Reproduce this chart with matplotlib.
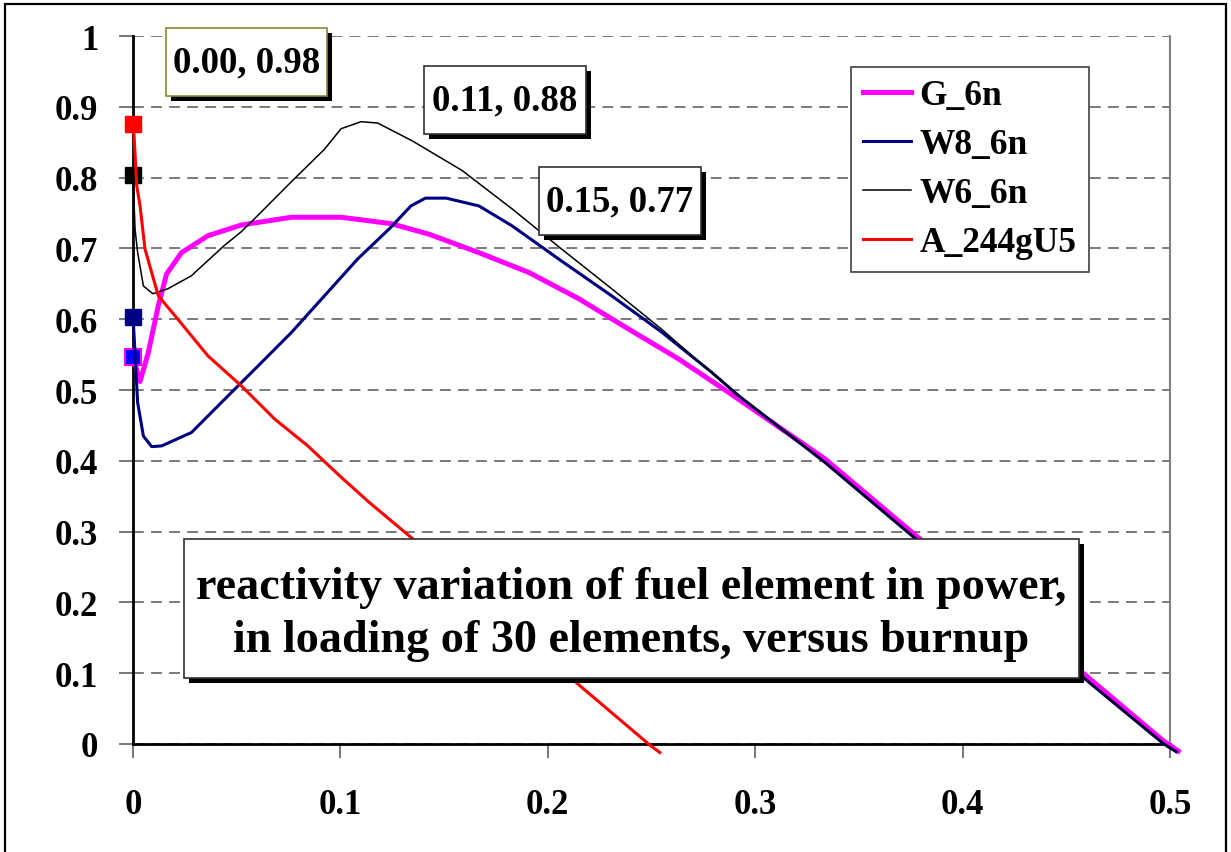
import numpy as np
import matplotlib
matplotlib.use('Agg')
import matplotlib.pyplot as plt
import matplotlib.patheffects as pe
from matplotlib.patches import Rectangle

plt.rcParams['font.family'] = ['Liberation Serif', 'DejaVu Serif']
plt.rcParams['font.weight'] = 'bold'

# burnup (x) vs reactivity (y)
g6n_x = [0, 0.0034, 0.0074, 0.0122, 0.0162, 0.0234, 0.0362, 0.0522, 0.0763, 0.1003,
         0.1244, 0.1428, 0.1668, 0.1909, 0.2149, 0.239, 0.263, 0.287, 0.3335, 0.3768,
         0.4585, 0.497, 0.504]
g6n_y = [0.547, 0.512, 0.553, 0.619, 0.664, 0.694, 0.718, 0.733, 0.744, 0.744,
         0.735, 0.720, 0.694, 0.666, 0.629, 0.586, 0.544, 0.497, 0.403, 0.296,
         0.099, 0.004, -0.010]

w8_x = [0, 0.001, 0.0022, 0.005, 0.009, 0.0138, 0.0282, 0.0442, 0.0603, 0.0763,
        0.0923, 0.1083, 0.1244, 0.134, 0.141, 0.151, 0.1668, 0.1827, 0.2067, 0.2308,
        0.2548, 0.279, 0.292, 0.3335, 0.3736, 0.4585, 0.497, 0.503]
w8_y = [0.603, 0.553, 0.483, 0.435, 0.420, 0.421, 0.440, 0.487, 0.534, 0.581,
        0.633, 0.685, 0.730, 0.760, 0.771, 0.771, 0.760, 0.732, 0.682, 0.633,
        0.582, 0.525, 0.492, 0.398, 0.299, 0.093, 0.000, -0.011]

w6_x = [0, 0.001, 0.0022, 0.005, 0.0096, 0.0168, 0.028, 0.044, 0.052, 0.060,
        0.0763, 0.0923, 0.1003, 0.110, 0.118, 0.1346, 0.1587, 0.1827, 0.2067, 0.2308,
        0.2548, 0.2788, 0.292, 0.3335, 0.3736, 0.4585, 0.497, 0.503]
w6_y = [0.804, 0.727, 0.695, 0.647, 0.636, 0.643, 0.661, 0.704, 0.723, 0.746,
        0.794, 0.840, 0.869, 0.879, 0.877, 0.852, 0.810, 0.756, 0.699, 0.643,
        0.586, 0.525, 0.492, 0.398, 0.299, 0.093, 0.000, -0.011]

a244_x = [0, 0.0006, 0.0018, 0.0034, 0.0058, 0.009, 0.0122, 0.0202, 0.0362, 0.0522,
          0.0683, 0.0843, 0.1003, 0.114, 0.1348, 0.17, 0.2144, 0.2486, 0.254]
a244_y = [0.876, 0.855, 0.789, 0.760, 0.699, 0.666, 0.633, 0.605, 0.548, 0.506,
          0.459, 0.421, 0.377, 0.341, 0.290, 0.200, 0.085, 0.0, -0.012]

labels = ['G_6n', 'W8_6n', 'W6_6n', 'A_244gU5']
peaks = ['0.00, 0.98', '0.11, 0.88', '0.15, 0.77']
title_txt = 'reactivity variation of fuel element in power,\nin loading of 30 elements, versus burnup'

W, H = 1231, 853
fig = plt.figure(figsize=(W / 100, H / 100), dpi=100)
ax = fig.add_axes([133/W, 108/H, 1037/W, 708/H])

# outer chart border
fig.patches.append(Rectangle((5/W, -0.01), 1221/W, 1.0 - 5/H + 0.01,
                             transform=fig.transFigure, fill=False, ec='black', lw=1.6))

ax.plot(g6n_x, g6n_y, color='#ff00ff', lw=3.6, clip_on=False, zorder=4, label=labels[0],
        marker='s', markevery=[0], ms=11, mfc='#0000ff', mec='#ff00ff', mew=1.5)
ax.plot(w8_x, w8_y, color='#000080', lw=2.2, clip_on=False, zorder=4, label=labels[1],
        marker='s', markevery=[0], ms=11, mfc='#000080', mec='#000080')
ax.plot(w6_x, w6_y, color='black', lw=1.1, clip_on=False, zorder=4, label=labels[2],
        marker='s', markevery=[0], ms=11, mfc='black', mec='black')
ax.plot(a244_x, a244_y, color='#ff0000', lw=2.2, clip_on=False, zorder=4, label=labels[3],
        marker='s', markevery=[0], ms=11, mfc='#ff0000', mec='#ff0000')

ax.set_xlim(0, 0.5)
ax.set_ylim(0, 1)
ax.set_xticks(np.arange(0, 0.51, 0.1))
ax.set_yticks(np.arange(0, 1.01, 0.1))
ax.set_xticklabels(['0', '0.1', '0.2', '0.3', '0.4', '0.5'])
ax.set_yticklabels(['0', '0.1', '0.2', '0.3', '0.4', '0.5', '0.6', '0.7', '0.8', '0.9', '1'])
ax.tick_params(axis='both', labelsize=25, length=10, width=1.2, color='#606060')
ax.tick_params(axis='x', pad=22)
ax.tick_params(axis='y', pad=15)
for lab in ax.get_xticklabels() + ax.get_yticklabels():
    lab.set_fontweight('bold')

ax.yaxis.grid(True, ls=(0, (6, 4)), color='#707070', lw=1.3)
ax.set_axisbelow(True)
ax.spines['left'].set_linewidth(2)
ax.spines['bottom'].set_linewidth(2)
ax.spines['top'].set_visible(False)
ax.spines['right'].set_color('#808080')
ax.spines['right'].set_linewidth(1.5)

leg = ax.legend(loc='upper right', bbox_to_anchor=(1089/W, 1 - 68/H),
                bbox_transform=fig.transFigure, borderaxespad=0, fancybox=False,
                framealpha=1, edgecolor='#404040', prop={'size': 25.5, 'weight': 'bold'},
                handlelength=1.35, handletextpad=0.25, labelspacing=0.45,
                borderpad=0.35, markerscale=0)
leg.get_frame().set_linewidth(1.2)
leg.set_zorder(6)
for h in leg.get_lines():
    h.set_marker('')

shadow = [pe.withSimplePatchShadow(offset=(3.6, -3.6), shadow_rgbFace='black', alpha=1)]


def text_box(x0, y0, x1, y1, txt, size, ec, spacing=1.2, dy=0):
    # box given in figure pixels (top-left origin), text centred inside
    r = Rectangle((x0/W, 1 - y1/H), (x1 - x0)/W, (y1 - y0)/H, transform=fig.transFigure,
                  fc='white', ec=ec, lw=1.2, zorder=7, clip_on=False)
    r.set_path_effects(shadow)
    ax.add_patch(r)
    ax.text((x0 + x1) / 2 / W, 1 - ((y0 + y1) / 2 + dy) / H, txt, transform=fig.transFigure,
            ha='center', va='center', fontsize=size, fontweight='bold',
            linespacing=spacing, zorder=8)


text_box(166, 29, 327, 97, peaks[0], 26.5, '#8a8a30')
text_box(424, 67, 586, 135, peaks[1], 26.5, '#303030')
text_box(539, 168, 701, 236, peaks[2], 26.5, '#303030')
text_box(184, 540, 1079, 679, title_txt, 33.2, '#303030', spacing=1.33, dy=5)

fig.savefig('out.png', dpi=100)
